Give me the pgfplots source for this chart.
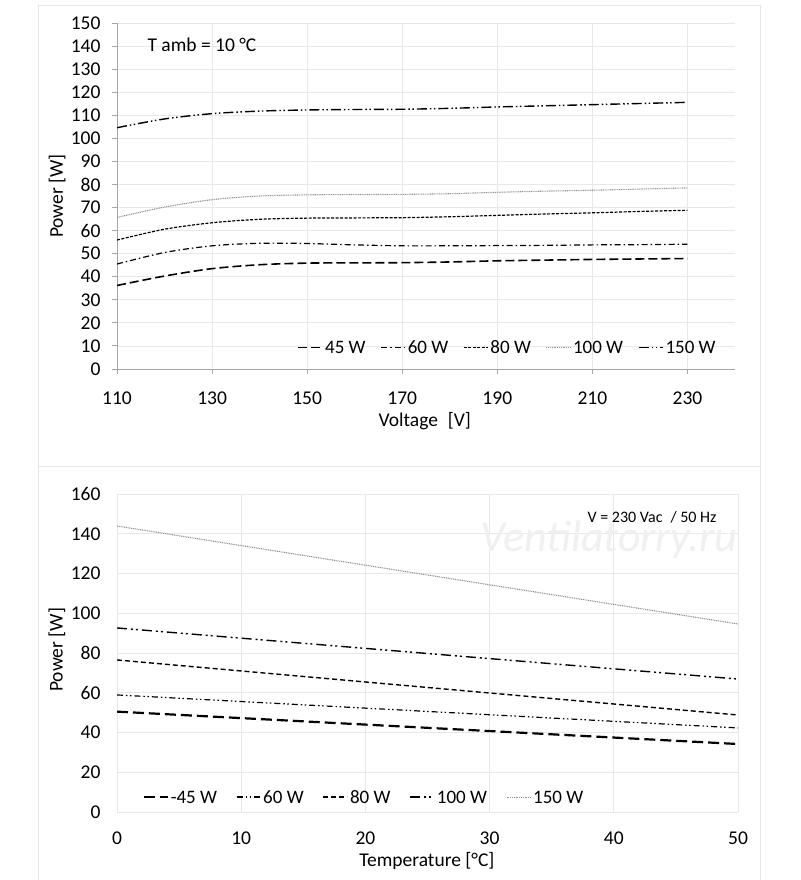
\documentclass[border=0pt]{standalone}
\usepackage{fontspec}
\setmainfont{Carlito}
\usepackage{pgfplots}
\pgfplotsset{compat=1.18}
\begin{document}
\begin{tikzpicture}
\path[use as bounding box, fill=white] (0pt,0pt) rectangle (800pt,880pt);
% panel frames
\draw[gray!20, line width=1pt] (38pt,413pt) rectangle (760pt,874pt);
\draw[gray!20, line width=1pt] (38pt,-5pt) rectangle (760pt,413pt);
\pgfplotsset{
  every axis/.append style={
    scale only axis,
    font=\fontsize{19.5}{21}\selectfont,
    /pgf/number format/assume math mode=true,
    tick label style={font=\fontsize{19.5}{21}\selectfont},
    label style={font=\fontsize{19.5}{21}\selectfont},
    grid=major,
    major grid style={gray!18, line width=0.8pt},
    legend cell align=left,
    legend image code/.code={\path[draw=none,fill=none] (0pt,-5.5pt) rectangle (24pt,5.5pt); \draw[#1] (0pt,0pt) -- (24pt,0pt);},
  },
}
% ---------------- TOP -----------------
\begin{axis}[
  at={(117pt,511pt)}, anchor=south west,
  width=618pt, height=346pt,
  xmin=110, xmax=240, ymin=0, ymax=150,
  xtick={110,130,...,230}, ytick={0,10,...,150},
  axis x line*=bottom, axis y line*=left,
  axis line style={gray!70, line width=0.9pt, -},
  tick style={gray!70, line width=0.9pt},
  tick align=outside, major tick length=5pt,
  xticklabel style={yshift=-14pt},
  yticklabel style={xshift=-8pt},
  xlabel={Voltage\enspace[V]}, ylabel={Power [W]},
  every axis x label/.style={at={(axis description cs:0.498,-0.150)}, anchor=center},
  every axis y label/.style={at={(axis description cs:-0.097,0.5)}, anchor=center, rotate=90},
  legend columns=5,
  legend style={draw=none, fill=none, at={(0.287,0.062)}, anchor=west,
    font=\fontsize{19}{21}\selectfont,
    nodes={text height=13pt, text depth=1pt},
    /tikz/every even column/.append style={column sep=13pt}},
]
\addplot[black, line width=1.6pt, dash pattern=on 9pt off 4pt, smooth] coordinates {
(110,36.2)(120,40.3)(130,43.5)(140,45.2)(150,45.9)(160,46.0)(170,46.1)(180,46.4)(190,46.9)(200,47.2)(210,47.5)(220,47.7)(230,47.9)};
\addlegendentry{45 W}
\addplot[black, line width=1.2pt, dash pattern=on 6pt off 3pt on 1.5pt off 3pt, smooth] coordinates {
(110,45.5)(120,50.5)(130,53.4)(140,54.5)(150,54.4)(160,53.8)(170,53.4)(180,53.4)(190,53.5)(200,53.6)(210,53.8)(220,53.9)(230,54.1)};
\addlegendentry{60 W}
\addplot[black, line width=1.2pt, dash pattern=on 3pt off 1.5pt, smooth] coordinates {
(110,55.9)(120,60.6)(130,63.4)(140,64.9)(150,65.4)(160,65.5)(170,65.6)(180,66.0)(190,66.6)(200,67.2)(210,67.7)(220,68.3)(230,68.8)};
\addlegendentry{80 W}
\addplot[gray!85, line width=1.1pt, dash pattern=on 1pt off 0.8pt, smooth] coordinates {
(110,65.7)(120,70.2)(130,73.4)(140,75.0)(150,75.5)(160,75.6)(170,75.7)(180,76.0)(190,76.6)(200,77.1)(210,77.5)(220,78.0)(230,78.5)};
\addlegendentry{100 W}
\addplot[black, line width=1.4pt, dash pattern=on 10pt off 3pt on 1.5pt off 2.5pt on 1.5pt off 3pt, smooth] coordinates {
(110,104.6)(120,108.4)(130,110.7)(140,111.8)(150,112.3)(160,112.5)(170,112.6)(180,113.0)(190,113.6)(200,114.1)(210,114.6)(220,115.1)(230,115.6)};
\addlegendentry{150 W}
\end{axis}
\node[anchor=west, font=\fontsize{19.5}{21}\selectfont] at (144pt,835pt) {T amb = 10 °C};
% ---------------- BOTTOM -----------------
\begin{axis}[
  at={(117pt,68pt)}, anchor=south west,
  width=621pt, height=318pt,
  xmin=0, xmax=50, ymin=0, ymax=160,
  xtick={0,10,...,50}, ytick={0,20,...,160},
  axis line style={draw=none},
  major tick length=0pt,
  xticklabel style={yshift=-16pt},
  yticklabel style={xshift=-13pt},
  xlabel={Temperature [°C]}, ylabel={Power [W]},
  every axis x label/.style={at={(axis description cs:0.499,-0.154)}, anchor=center},
  every axis y label/.style={at={(axis description cs:-0.0966,0.51)}, anchor=center, rotate=90},
  legend columns=5,
  legend style={draw=none, fill=none, at={(0.036,0.047)}, anchor=west,
    font=\fontsize{19}{21}\selectfont,
    nodes={text height=13pt, text depth=1pt},
    /tikz/every even column/.append style={column sep=17pt}},
]
\addplot[black, line width=2.2pt, dash pattern=on 11pt off 5pt] coordinates {(0,50.5)(50,34.2)};
\addlegendentry{-45 W}
\addplot[black, line width=1.2pt, dash pattern=on 6pt off 3pt on 1.5pt off 2.5pt on 1.5pt off 3pt] coordinates {(0,58.9)(50,42.3)};
\addlegendentry{60 W}
\addplot[black, line width=1.4pt, dash pattern=on 5pt off 3pt] coordinates {(0,76.5)(50,48.8)};
\addlegendentry{80 W}
\addplot[black, line width=1.4pt, dash pattern=on 10pt off 4pt on 2pt off 3pt on 2pt off 4pt] coordinates {(0,92.6)(50,66.9)};
\addlegendentry{100 W}
\addplot[gray!85, line width=1.1pt, dash pattern=on 1pt off 0.8pt] coordinates {(0,143.9)(50,94.6)};
\addlegendentry{150 W}
\end{axis}
\node[font=\fontsize{44}{46}\selectfont\itshape, text=gray!12] at (609pt,340pt) {Ventilatorry.ru};
\node[anchor=east, font=\fontsize{16}{18}\selectfont] at (720pt,363pt) {V = 230 Vac\enspace/ 50 Hz};
\end{tikzpicture}
\end{document}
